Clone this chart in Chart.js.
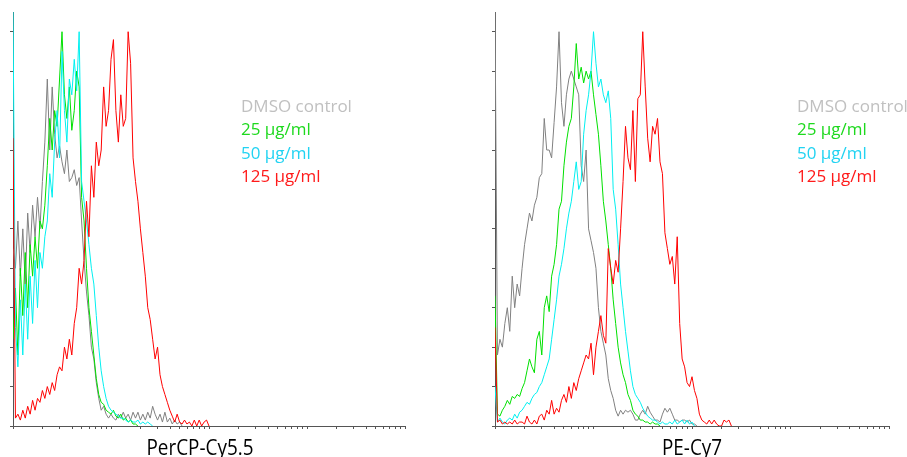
<!DOCTYPE html>
<html>
<head>
<meta charset="utf-8">
<title>PerCP-Cy5.5 / PE-Cy7 histograms</title>
<script src="https://cdn.jsdelivr.net/npm/chart.js@4.4.1/dist/chart.umd.min.js"></script>
<style>
  html, body { margin: 0; padding: 0; background: #fff; }
  #wrap { position: relative; width: 907px; height: 457px; overflow: hidden; }
  .panel { position: absolute; top: 0; height: 457px; }
  #left { left: 0; width: 450px; }
  #right { left: 450px; width: 457px; }
</style>
</head>
<body>
<div id="wrap">
  <div class="panel" id="left"><canvas id="percp"></canvas></div>
  <div class="panel" id="right"><canvas id="pecy7"></canvas></div>
</div>
<script>
// groups shown in both panels
var groups = ['DMSO control', '25 \u00b5g/ml', '50 \u00b5g/ml', '125 \u00b5g/ml'];

// histogram counts (% of max), one value per channel, 40 channels per decade from 10^1
var percpDmso = [45, 40, 52, 38, 50, 36, 54, 44, 56, 48,
                 58, 50, 62, 72, 88, 70, 86, 74, 68, 71,
                 67, 64, 70, 62, 63, 65, 61, 63, 52, 42,
                 34, 28, 20, 17, 11, 7, 4, 5, 3, 2,
                 3, 2, 1.5, 3, 2, 3.5, 2, 3, 1.5, 3.5,
                 2, 3.5, 1.5, 3, 1.5, 3.5, 2, 5, 3, 1.5,
                 3, 1, 3.5, 1, 2, 0.5, 1.5, 0.5, 1, 0];
var percp25 = [22, 35, 18, 40, 28, 44, 30, 46, 38, 48,
               40, 52, 50, 56, 66, 78, 70, 80, 76, 88,
               100, 84, 78, 86, 75, 80, 90, 86, 58, 52,
               40, 30, 24, 18, 12, 8, 6, 5.5, 4, 3.5,
               3, 4, 2.5, 2, 3, 1.5, 2, 1, 1.5, 0.5,
               0.5, 0];
var percp50 = [105, 25, 15, 32, 18, 36, 22, 38, 26, 42,
               30, 44, 40, 48, 52, 64, 58, 72, 80, 68,
               95, 80, 72, 88, 84, 93, 85, 100, 62, 57,
               52, 46, 40, 36, 28, 20, 14, 10, 7, 5,
               4, 3.5, 3, 2.5, 2, 2, 1.5, 1, 1.5, 1,
               1, 1.5, 0.5, 1, 0.5, 1, 0.5, 0];
var percp125 = [73, 2, 3, 1.5, 4, 2, 5, 3, 6.5, 4,
                7, 6, 9, 7, 10, 8, 11, 9, 13, 15,
                14, 20, 17, 22, 18, 26, 30, 40, 36, 42,
                57, 48, 66, 58, 72, 66, 70, 86, 76, 80,
                93, 98, 80, 72, 84, 76, 78, 100, 92, 68,
                62, 57, 50, 44, 38, 30, 27, 22, 17, 20,
                13, 10, 8, 6, 4, 2.5, 1, 3, 1, 0.5,
                1.5, 0.5, 1, 0, 1.5, 0, 1.5, 0, 1, 1.5,
                0];

var pecyDmso = [105, 18, 22, 20, 26, 30, 24, 38, 30, 36,
                33, 40, 46, 50, 54, 52, 56, 58, 63, 64,
                78, 70, 70, 68, 77, 86, 100, 82, 76, 84,
                88, 90, 88, 86, 84, 66, 62, 70, 50, 47,
                44, 40, 30, 24, 21, 18, 12, 9, 7, 4,
                2.5, 4, 3, 4, 3.5, 4, 3, 1.5, 1.5, 3,
                4, 3, 5, 3.5, 2.5, 1.5, 1.5, 1, 3, 4.5,
                3.5, 4.5, 3, 1.5, 1.5, 1, 1.5, 1.5, 1, 1.5,
                0.5, 0.5, 0];
var pecy25 = [33, 3, 2.5, 4, 5, 6.5, 5.5, 7.5, 7, 8,
              7.5, 9.5, 11, 14, 17, 15, 13.5, 22, 24, 18,
              30, 33, 29, 38, 41, 46, 55, 57, 66, 72,
              76, 78, 86, 97, 88, 91, 87, 90, 88, 90,
              84, 79, 74, 66, 57, 52, 46, 40, 32, 26,
              20, 16, 13, 11, 8, 6.5, 4, 3, 2.5, 1.5,
              1.5, 1, 1, 0.5, 1, 0.5, 0.5, 0];
var pecy50 = [10, 1, 2, 1, 0.5, 1.5, 2, 1.5, 3, 2,
              3.5, 4, 5, 6, 5.5, 7, 8, 8.5, 10, 11,
              13, 15, 17, 22, 27, 32, 38, 41, 45, 50,
              54, 57, 62, 67, 60, 62, 74, 80, 84, 90,
              100, 92, 86, 88, 84, 82, 85, 78, 60, 55,
              46, 36, 30, 24, 19, 14, 10, 8, 7, 6,
              4.5, 3.5, 2.5, 2, 1.5, 1.5, 1, 0.5, 1, 0.5,
              0.5, 1, 0.5, 1.5, 0.5, 1, 1.5, 0.5, 1.5, 0.5,
              1, 0];
var pecy125 = [25, 1, 1.5, 0.5, 1, 0.5, 1, 0.5, 1.5, 0.5,
               1, 1, 0.5, 2.5, 1, 0.5, 1.5, 0.5, 2.5, 3,
               1.5, 4, 3, 6.5, 3, 4.5, 3.5, 6.5, 8, 6,
               10, 7, 11, 9, 12, 14, 16, 18, 17, 21,
               13, 20, 24, 28, 23, 21, 45, 40, 36, 42,
               39, 50, 62, 76, 68, 65, 80, 62, 83, 84,
               100, 86, 73, 67, 76, 74, 78, 67, 64, 49,
               45, 41, 43, 36, 48, 26, 17, 15, 11, 10,
               12.5, 9, 7, 3, 1.5, 1, 0.5, 1.5, 0.5, 1.5,
               0.5, 0, 0, 1.5, 1, 1.5, 0];

// axes
var binsPerDecade = 40;
var xMin = 10, xMax = 100000;
var yTicks = [0, 10, 20, 30, 40, 50, 60, 70, 80, 90, 100];
var xTicks = [];
for (var e = 1; e <= 4; e++) {
    for (var m = 1; m <= 9; m++) xTicks.push(m * Math.pow(10, e));
}
xTicks.push(xMax);

var lineColors = ['#808080', '#00e000', '#00f0f0', '#ff0000'];
var textColors = ['#c0c0c0', '#1ed91e', '#22d3f2', '#ff1a1a'];
var axisColor = '#555555';

// channel index -> log position on the x axis
function toPoints(values) {
    return values.map(function(v, i) {
        return { x: xMin * Math.pow(10, i / binsPerDecade), y: v };
    });
}

// legend + axis title drawn as text on the canvas
var panelText = {
    id: 'panelText',
    afterDraw: function(chart, args, opts) {
        var ctx = chart.ctx;
        ctx.save();
        ctx.textBaseline = 'alphabetic';
        ctx.textAlign = 'left';
        ctx.font = '17px "Open Sans"';
        chart.data.datasets.forEach(function(ds, k) {
            ctx.fillStyle = textColors[k];
            ctx.fillText(ds.label, opts.legendX, 112 + k * 23.3);
        });
        ctx.font = '21px "Open Sans"';
        ctx.textAlign = 'center';
        ctx.fillStyle = '#000';
        ctx.fillText(opts.title, opts.titleX, 455, opts.titleWidth);
        ctx.restore();
    }
};

function makePanel(id, title, series, text, padding) {
    var datasets = series.map(function(values, k) {
        return {
            label: groups[k],
            data: toPoints(values),
            borderColor: lineColors[k],
            borderWidth: 1,
            pointRadius: 0,
            tension: 0,
            fill: false,
            order: 4 - k
        };
    });
    return new Chart(document.getElementById(id), {
        type: 'line',
        data: { datasets: datasets },
        plugins: [panelText],
        options: {
            responsive: true,
            maintainAspectRatio: false,
            animation: false,
            layout: { padding: padding },
            plugins: {
                legend: { display: false },
                tooltip: { enabled: false },
                panelText: { title: title, titleX: text.titleX, titleWidth: text.titleWidth, legendX: text.legendX }
            },
            scales: {
                x: {
                    type: 'logarithmic',
                    min: xMin,
                    max: xMax,
                    afterBuildTicks: function(s) { s.ticks = xTicks.map(function(v) { return { value: v }; }); },
                    afterFit: function(s) { s.height = 31; },
                    ticks: { display: false },
                    grid: { display: true, drawOnChartArea: false, drawTicks: true, tickLength: 3, color: axisColor },
                    border: { display: true, color: axisColor, width: 1 }
                },
                y: {
                    min: 0,
                    max: 105,
                    afterBuildTicks: function(s) { s.ticks = yTicks.map(function(v) { return { value: v }; }); },
                    afterFit: function(s) { s.width = text.axisWidth; },
                    ticks: { display: false },
                    grid: { display: true, drawOnChartArea: false, drawTicks: true, tickLength: 3, color: axisColor },
                    border: { display: true, color: axisColor, width: 1 }
                }
            }
        }
    });
}

makePanel('percp', 'PerCP-Cy5.5', [percpDmso, percp25, percp50, percp125],
    { titleX: 200, titleWidth: 107, legendX: 241, axisWidth: 13 },
    { top: 12, left: 0, right: 45, bottom: 0 });

makePanel('pecy7', 'PE-Cy7', [pecyDmso, pecy25, pecy50, pecy125],
    { titleX: 242, titleWidth: 60, legendX: 347, axisWidth: 15 },
    { top: 12, left: 30, right: 18, bottom: 0 });
</script>
</body>
</html>
